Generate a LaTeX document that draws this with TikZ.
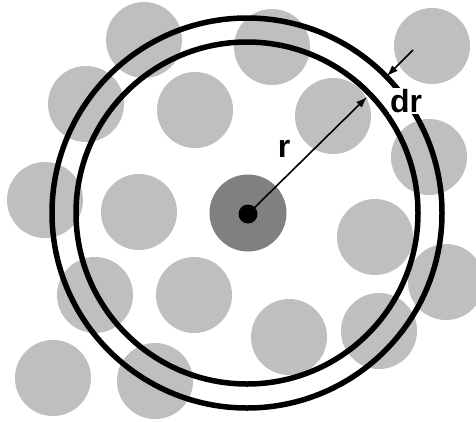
\documentclass[tikz,border=0pt]{standalone}
\usepackage{fontspec}
\setmainfont{Liberation Sans}
\usetikzlibrary{arrows.meta}
\begin{document}
\begin{tikzpicture}[x=1pt,y=-1pt,
  particle/.style={circle,fill=partgray,draw=none,minimum size=76pt,inner sep=0pt},
  ring/.style={draw=black,line width=5.5pt},
  arr/.style={line width=1.6pt,-{Latex[length=11pt,width=8pt]}},
  lbl/.style={font=\bfseries\fontsize{32}{32}\selectfont,text=black}]
\definecolor{partgray}{RGB}{191,191,191}
\definecolor{centgray}{RGB}{128,128,128}
\useasboundingbox (0,0) rectangle (476,421);
\fill[white] (0,0) rectangle (476,421);
% particles
\node[particle] (p1) at (144,40) {};
\node[particle] (p2) at (272,47) {};
\node[particle] (p3) at (432,46) {};
\node[particle] (p4) at (86,104) {};
\node[particle] (p5) at (195,110) {};
\node[particle] (p6) at (333,116) {};
\node[particle] (p7) at (429,157) {};
\node[particle] (p8) at (45,200) {};
\node[particle] (p9) at (139,212) {};
\node[particle] (p10) at (375,237) {};
\node[particle] (p11) at (446,282) {};
\node[particle] (p12) at (95,295) {};
\node[particle] (p13) at (194,295) {};
\node[particle] (p14) at (289,337) {};
\node[particle] (p15) at (379,331) {};
\node[particle] (p16) at (53,378) {};
\node[particle] (p17) at (155,381) {};
% central particle
\node[circle,fill=centgray,minimum size=77pt,inner sep=0pt] (cp) at (248,213) {};
\node[circle,fill=black,minimum size=19pt,inner sep=0pt] (c) at (248,214) {};
% shells
\draw[ring] (247,213) circle[radius=171];
\draw[ring] (247,213) circle[radius=195];
% r arrow
\coordinate (rtip) at (367,97);
\draw[arr] (c.center) -- (rtip);
\node[lbl] (r) at (284,149) {r};
% dr arrow
\coordinate (drs) at (413,50);
\coordinate (drt) at (387,76);
\draw[arr] (drs) -- (drt);
\node[lbl,fill=white,inner sep=1pt] (dr) at (406,101) {dr};
\end{tikzpicture}
\end{document}
